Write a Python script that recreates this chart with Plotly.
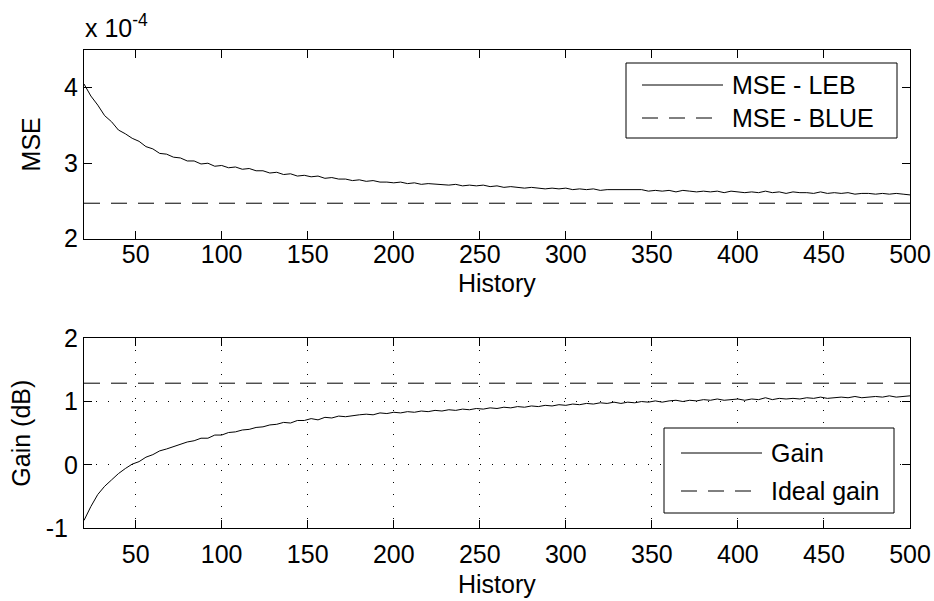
import plotly.graph_objects as go

# ---------------- data ----------------
history = list(range(20, 501, 4))

mse_leb = [4.05, 3.89, 3.77, 3.63, 3.55, 3.44, 3.39, 3.33, 3.29, 3.22,
           3.19, 3.13, 3.12, 3.08, 3.07, 3.03, 3.03, 2.99, 3.00, 2.96,
           2.97, 2.94, 2.95, 2.92, 2.93, 2.90, 2.90, 2.87, 2.88, 2.85,
           2.86, 2.83, 2.84, 2.82, 2.83, 2.80, 2.81, 2.79, 2.79, 2.77,
           2.78, 2.76, 2.77, 2.75, 2.75, 2.74, 2.75, 2.73, 2.74, 2.72,
           2.73, 2.72, 2.72, 2.71, 2.72, 2.70, 2.71, 2.70, 2.71, 2.69,
           2.70, 2.68, 2.69, 2.68, 2.67, 2.68, 2.67, 2.66, 2.67, 2.66,
           2.67, 2.65, 2.66, 2.65, 2.66, 2.64, 2.65, 2.65, 2.64, 2.65,
           2.64, 2.65, 2.63, 2.64, 2.63, 2.64, 2.62, 2.64, 2.63, 2.62,
           2.63, 2.62, 2.63, 2.61, 2.63, 2.62, 2.61, 2.62, 2.61, 2.63,
           2.61, 2.62, 2.60, 2.62, 2.61, 2.61, 2.60, 2.62, 2.60, 2.61,
           2.60, 2.61, 2.59, 2.60, 2.60, 2.59, 2.60, 2.59, 2.60, 2.59,
           2.58]
mse_blue = 2.47  # x 1e-4

gain = [-0.88, -0.66, -0.47, -0.34, -0.24, -0.14, -0.06, 0.01, 0.05, 0.12,
        0.16, 0.22, 0.25, 0.29, 0.33, 0.36, 0.38, 0.42, 0.42, 0.47,
        0.47, 0.51, 0.52, 0.55, 0.56, 0.59, 0.60, 0.63, 0.64, 0.67,
        0.66, 0.70, 0.70, 0.73, 0.71, 0.75, 0.74, 0.77, 0.76, 0.78,
        0.79, 0.80, 0.79, 0.82, 0.81, 0.83, 0.82, 0.84, 0.83, 0.85,
        0.84, 0.86, 0.85, 0.87, 0.86, 0.88, 0.87, 0.89, 0.88, 0.90,
        0.89, 0.91, 0.90, 0.92, 0.91, 0.93, 0.92, 0.94, 0.93, 0.95,
        0.94, 0.96, 0.95, 0.97, 0.96, 0.98, 0.97, 0.99, 0.97, 0.99,
        0.98, 1.00, 0.99, 1.01, 0.99, 1.01, 1.02, 1.00, 1.02, 1.01,
        1.03, 1.02, 1.04, 1.02, 1.03, 1.04, 1.02, 1.04, 1.03, 1.06,
        1.03, 1.05, 1.04, 1.05, 1.04, 1.06, 1.05, 1.07, 1.05, 1.06,
        1.07, 1.06, 1.08, 1.06, 1.07, 1.08, 1.07, 1.09, 1.07, 1.08,
        1.09]
ideal_gain = 1.29

x_ticks = [50, 100, 150, 200, 250, 300, 350, 400, 450, 500]
mse_ticks = [2, 3, 4]
gain_ticks = [-1, 0, 1, 2]
gain_ticklabels = ["-1\u2009\u2009", "0", "1", "2"]

# ---------------- figure ----------------
W, H = 934, 601
FONT = "Liberation Sans, Arial, sans-serif"
FS = 25
DASH = "16px,11px"


def px(x):
    return x / W


def py(y):
    return 1 - y / H


fig = go.Figure()

fig.add_trace(go.Scatter(x=history, y=mse_leb, mode="lines",
                         line=dict(color="black", width=1),
                         name="MSE - LEB", xaxis="x", yaxis="y"))
fig.add_trace(go.Scatter(x=[history[0], history[-1]], y=[mse_blue, mse_blue],
                         mode="lines",
                         line=dict(color="black", width=1, dash=DASH),
                         name="MSE - BLUE", xaxis="x", yaxis="y"))
fig.add_trace(go.Scatter(x=history, y=gain, mode="lines",
                         line=dict(color="black", width=1),
                         name="Gain", xaxis="x2", yaxis="y2"))
fig.add_trace(go.Scatter(x=[history[0], history[-1]], y=[ideal_gain, ideal_gain],
                         mode="lines",
                         line=dict(color="black", width=1, dash=DASH),
                         name="Ideal gain", xaxis="x2", yaxis="y2"))

xdom = [px(84), px(910)]
common_axis = dict(showline=True, linecolor="black", linewidth=1, mirror="ticks",
                   ticks="inside", ticklen=8, tickwidth=1, tickcolor="black",
                   zeroline=False, automargin=False,
                   tickfont=dict(family=FONT, size=FS, color="black"))
title_font = dict(family=FONT, size=FS, color="black")

fig.update_layout(
    template="none",
    width=W, height=H,
    margin=dict(l=0, r=0, t=0, b=0, pad=0),
    paper_bgcolor="white", plot_bgcolor="white",
    showlegend=False,
    font=dict(family=FONT, size=FS, color="black"),
    xaxis=dict(domain=xdom, anchor="y", range=[20, 500], tickvals=x_ticks,
               showgrid=False, ticklabelstandoff=-7,
               **common_axis),
    yaxis=dict(domain=[py(238.7), py(50)], anchor="x", range=[2, 4.5],
               tickvals=mse_ticks, ticktext=[str(t) for t in mse_ticks],
               showgrid=False,
               title=dict(text="MSE", standoff=16, font=title_font),
               **common_axis),
    xaxis2=dict(domain=xdom, anchor="y2", range=[20, 500], tickvals=x_ticks,
                showgrid=True, gridcolor="black", gridwidth=1, griddash="1px,11px",
                ticklabelstandoff=4,
                **common_axis),
    yaxis2=dict(domain=[py(528), py(338.3)], anchor="x2", range=[-1, 2],
                tickvals=gain_ticks, ticktext=gain_ticklabels,
                showgrid=True, gridcolor="black", gridwidth=1, griddash="1px,11px",
                title=dict(text="Gain (dB)", standoff=7, font=title_font),
                **common_axis),
)

# x-axis titles
for ytitle in (283, 584):
    fig.add_annotation(x=(xdom[0] + xdom[1]) / 2, y=py(ytitle), xref="paper", yref="paper",
                       xanchor="center", yanchor="middle", showarrow=False,
                       text="History", borderpad=0, font=title_font)

# exponent label for the MSE axis
fig.add_annotation(x=px(84), y=py(43), xref="paper", yref="paper",
                   xanchor="left", yanchor="bottom", showarrow=False,
                   text="x 10<sup>-4</sup>", borderpad=0,
                   font=dict(family=FONT, size=FS, color="black"))


# ---------------- legends (MATLAB style boxes) ----------------
def draw_legend(box, line_x, rows, text_x):
    x0, y0, x1, y1 = box
    fig.add_shape(type="rect", xref="paper", yref="paper",
                  x0=px(x0), x1=px(x1), y0=py(y1), y1=py(y0),
                  line=dict(color="black", width=1), fillcolor="white",
                  layer="above")
    for (label, dash, yrow) in rows:
        fig.add_shape(type="line", xref="paper", yref="paper",
                      x0=px(line_x[0]), x1=px(line_x[1]), y0=py(yrow), y1=py(yrow),
                      line=dict(color="black", width=1, dash=dash), layer="above")
        fig.add_annotation(x=px(text_x), y=py(yrow), xref="paper", yref="paper",
                           xanchor="left", yanchor="middle", showarrow=False,
                           text=label, borderpad=0,
                           font=dict(family=FONT, size=FS, color="black"))


draw_legend((626, 63, 897, 138), (642, 723),
            [("MSE - LEB", "solid", 85), ("MSE - BLUE", DASH, 118)], 731)
draw_legend((664, 428, 894, 513), (681, 762),
            [("Gain", "solid", 453), ("Ideal gain", DASH, 491)], 770)

fig.write_html("out.html")
